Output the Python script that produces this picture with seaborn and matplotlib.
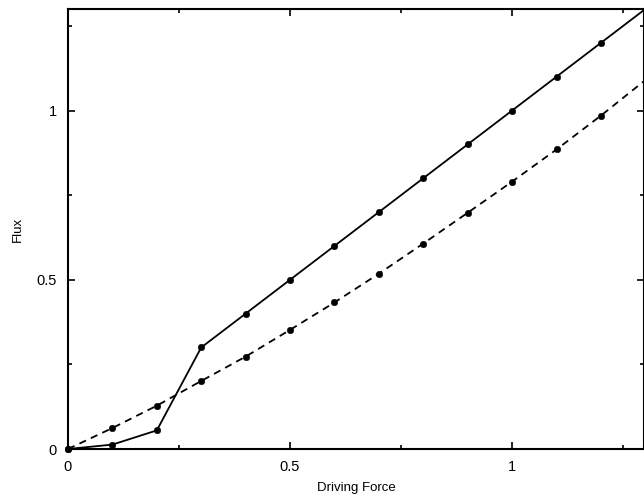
import numpy as np
import pandas as pd
import matplotlib
matplotlib.use("Agg")
import matplotlib.pyplot as plt
import seaborn as sns
from matplotlib.ticker import MultipleLocator, FuncFormatter

# values
force = [0.0, 0.1, 0.2, 0.3, 0.4, 0.5, 0.6, 0.7, 0.8, 0.9, 1.0, 1.1, 1.2, 1.3]
flux_solid = [0.0, 0.013, 0.055, 0.30, 0.40, 0.50, 0.60, 0.70, 0.80, 0.90, 1.00, 1.10, 1.20, 1.30]
flux_dashed = [0.0, 0.062, 0.128, 0.201, 0.273, 0.352, 0.433, 0.518, 0.607, 0.698, 0.790, 0.885, 0.985, 1.09]

sns.set_style("ticks")
plt.rcParams['font.family'] = ['Liberation Sans', 'DejaVu Sans']
plt.rcParams['text.color'] = 'black'
plt.rcParams['axes.labelcolor'] = 'black'
plt.rcParams['xtick.color'] = 'black'
plt.rcParams['ytick.color'] = 'black'

df = pd.DataFrame({"force": force, "solid": flux_solid, "dashed": flux_dashed})
pts = df[df["force"] <= 1.2]

fig = plt.figure(figsize=(6.44, 4.98), dpi=100)
ax = fig.add_axes([68 / 644, 49 / 498, 576 / 644, 440 / 498])

sns.lineplot(data=df, x="force", y="solid", color="black", linewidth=1.3, ax=ax)
sns.lineplot(data=df, x="force", y="dashed", color="black", linewidth=1.3,
             linestyle=(0, (4, 3)), ax=ax)
for col in ["solid", "dashed"]:
    sns.scatterplot(data=pts, x="force", y=col, color="black", s=22,
                    edgecolor="black", ax=ax, zorder=3, clip_on=False)

ax.set_xlim(0, 1.297)
ax.set_ylim(0, 1.30)
ax.xaxis.set_major_locator(MultipleLocator(0.5))
ax.yaxis.set_major_locator(MultipleLocator(0.5))
ax.xaxis.set_minor_locator(MultipleLocator(0.25))
ax.yaxis.set_minor_locator(MultipleLocator(0.25))
ax.xaxis.set_major_formatter(FuncFormatter(lambda v, p: f"{v:g}"))
ax.yaxis.set_major_formatter(FuncFormatter(lambda v, p: f"{v:g}"))
ax.tick_params(which="both", direction="in", top=True, right=True, width=1.2,
               labelsize=10.5, pad=8, colors="black")
ax.tick_params(which="major", length=5)
ax.tick_params(which="minor", length=3)
for sp in ax.spines.values():
    sp.set_visible(True)
    sp.set_linewidth(1.5)
    sp.set_color("black")

ax.set_xlabel("Driving Force", fontsize=9.5, labelpad=6)
ax.set_ylabel("Flux", fontsize=9.5, labelpad=9)

fig.savefig("out.png", dpi=100)
